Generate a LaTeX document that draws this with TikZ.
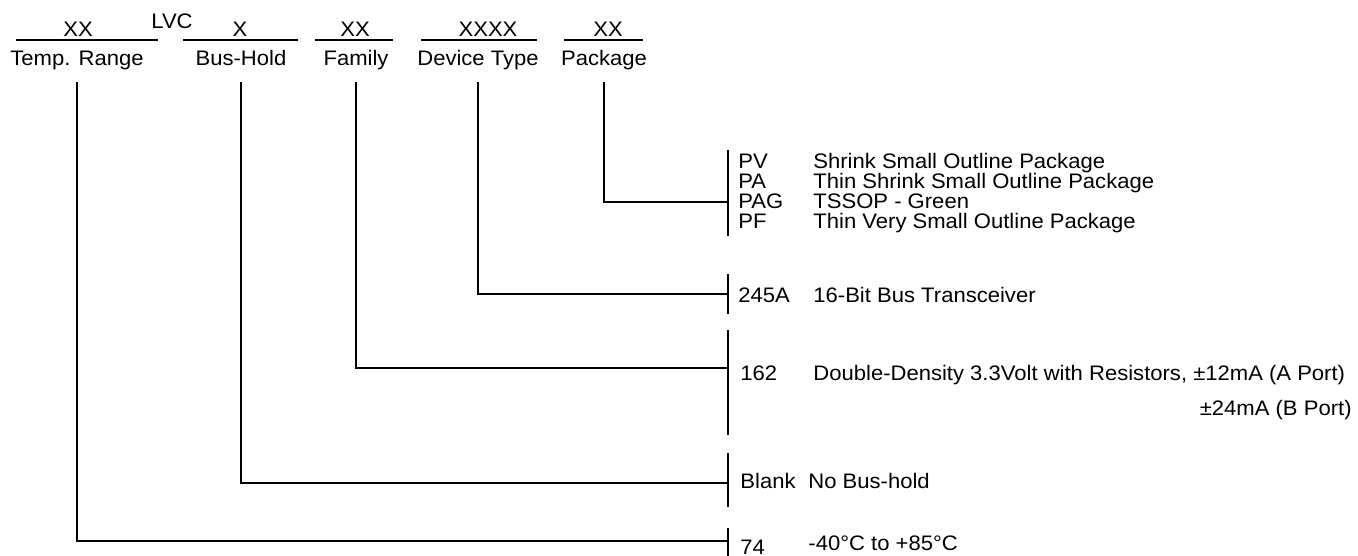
\documentclass[tikz,border=0pt]{standalone}
\usepackage{fontspec}
\setmainfont{Liberation Sans}[FakeStretch=1.05]
\usepackage{tikz}
\usetikzlibrary{calc}

\begin{document}
\begin{tikzpicture}[x=0.5pt,y=-0.5pt,font=\fontsize{10.5}{12.5}\selectfont,
  txt/.style={inner sep=0pt,anchor=base west},
  hd/.style={inner sep=0pt,anchor=base},
  cat/.style={inner sep=0pt,anchor=base,text depth=2pt},
  ln/.style={line width=0.65pt}]
\useasboundingbox (0,0) rectangle (1358,556);
% part number fields
\node[hd] (xxTemp) at (78,37) {XX};
\node[hd] (lvc) at (172,29) {LVC};
\node[hd] (xBus) at (240,37) {X};
\node[hd] (xxFam) at (355,37) {XX};
\node[hd] (xxDev) at (488,37) {XXXX};
\node[hd] (xxPkg) at (608,37) {XX};
\draw[ln] (16,40)--(158,40) (183,40)--(298,40) (315,40)--(393,40)
  (421,40)--(537,40) (564,40)--(643,40);
\node[cat] (temp) at (77,66) {Temp. Range};
\node[cat] (bus) at (241,66) {Bus-Hold};
\node[cat] (fam) at (356,66) {Family};
\node[cat] (dev) at (478,66) {Device Type};
\node[cat] (pkg) at (604,66) {Package};
% package
\draw[ln] (728,150)--(728,236);
\coordinate (jPkg) at (728,202);
\node[txt] (pv) at (738,168) {PV};
\node[txt] (pvD) at (813,168) {Shrink Small Outline Package};
\node[txt] (pa) at (738,188) {PA};
\node[txt] (paD) at (813,188) {Thin Shrink Small Outline Package};
\node[txt] (pag) at (738,208) {PAG};
\node[txt] (pagD) at (813,208) {TSSOP - Green};
\node[txt] (pf) at (738,228) {PF};
\node[txt] (pfD) at (813,228) {Thin Very Small Outline Package};
% device type
\draw[ln] (728,274)--(728,314);
\coordinate (jDev) at (728,294);
\node[txt] (d245) at (738,302) {245A};
\node[txt] (d245D) at (813,302) {16-Bit Bus Transceiver};
% family
\draw[ln] (728,330)--(728,435);
\coordinate (jFam) at (728,368);
\node[txt] (f162) at (740,380) {162};
\node[txt] (f162D) at (813,380) {Double-Density 3.3Volt with Resistors, ±12mA (A Port)};
\node[inner sep=0pt,anchor=base east] (f162E) at (1352,415) {±24mA (B Port)};
% bus-hold
\draw[ln] (728,453)--(728,507);
\coordinate (jBus) at (728,483);
\node[txt] (blank) at (740,488) {Blank};
\node[txt] (blankD) at (808,488) {No Bus-hold};
% temp. range
\draw[ln] (728,528)--(728,556);
\coordinate (jTemp) at (728,541);
\node[txt] (t74) at (740,554) {74};
\node[txt] (t74D) at (808,550) {-40°C to +85°C};
% connectors
\draw[ln] ([yshift=-6pt]temp.south) |- (jTemp);
\draw[ln] ([yshift=-6pt]bus.south) |- (jBus);
\draw[ln] ([yshift=-6pt]fam.south) |- (jFam);
\draw[ln] ([yshift=-6pt]dev.south) |- (jDev);
\draw[ln] ([yshift=-6pt]pkg.south) |- (jPkg);
\end{tikzpicture}
\end{document}
